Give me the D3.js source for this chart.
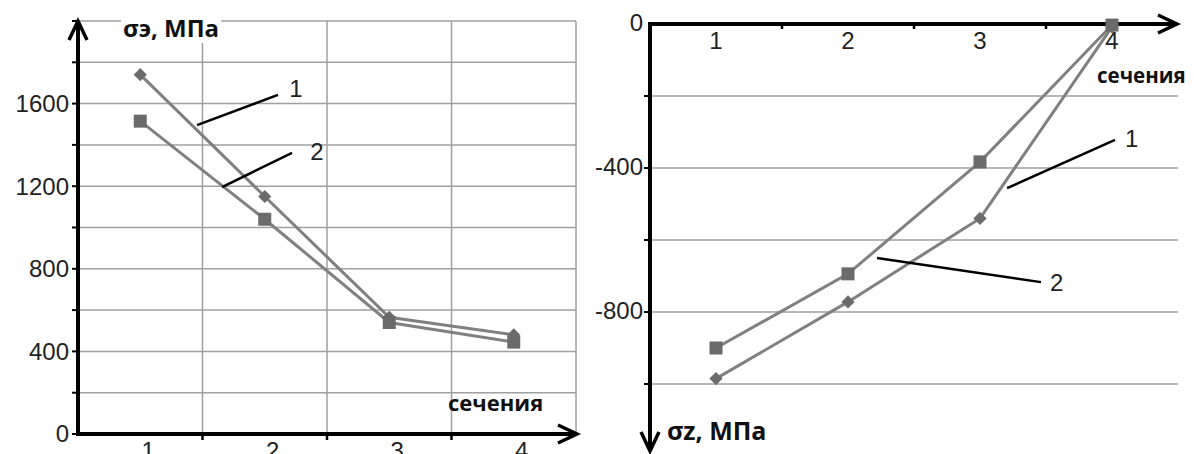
<!DOCTYPE html>
<html>
<head>
<meta charset="utf-8">
<script src="https://cdn.jsdelivr.net/npm/d3@7"></script>
<style>
  body { margin: 0; background: #fff; }
  svg { display: block; }
  .tick-label { font-family: "Liberation Sans", Arial, sans-serif; font-size: 24px; fill: #222; }
  .axis-title { font-family: "Open Sans", sans-serif; font-weight: 700; fill: #111; }
</style>
</head>
<body>
<div id="chart"></div>
<script>
// sections along the shaft
const sections = [1, 2, 3, 4];
// left chart: equivalent stress σэ, MPa
const seCurve1 = [1740, 1150, 565, 480];
const seCurve2 = [1515, 1040, 540, 445];
const seGrid = [200, 400, 600, 800, 1000, 1200, 1400, 1600, 1800, 2000];
const seLabels = [0, 400, 800, 1200, 1600];
// right chart: axial stress σz, MPa
const szCurve1 = [-985, -772, -540, -8];
const szCurve2 = [-900, -694, -383, -3];
const szGrid = [-200, -400, -600, -800, -1000];
const szLabels = [0, -400, -800];

var W = 1194, H = 454;
var svg = d3.select('#chart').append('svg').attr('width', W).attr('height', H);
svg.append('rect').attr('width', W).attr('height', H).attr('fill', '#fff');

var lineCol = '#808080', markCol = '#6b6b6b', gridCol = '#a0a0a0';

function arrowHead(g, x, y, dir){
	// open chevron arrow, dir: 'up' | 'right' | 'down'
	var p;
	if (dir === 'up') p = [[x - 9, y + 19], [x, y], [x + 9, y + 19]];
	if (dir === 'down') p = [[x - 9, y - 19], [x, y], [x + 9, y - 19]];
	if (dir === 'right') p = [[x - 19, y - 9], [x, y], [x - 19, y + 9]];
	g.append('path').attr('d', d3.line()(p)).attr('fill', 'none')
		.attr('stroke', '#000').attr('stroke-width', 3.5).attr('stroke-linejoin', 'miter');
}

function diamond(g, pts, size){
	g.selectAll(null).data(pts).enter().append('path')
		.attr('d', d3.symbol().type(d3.symbolDiamond2).size(size))
		.attr('transform', function(d){ return 'translate(' + d[0] + ',' + d[1] + ')'; })
		.attr('fill', markCol);
}
function square(g, pts, side){
	g.selectAll(null).data(pts).enter().append('rect')
		.attr('x', function(d){ return d[0] - side / 2; })
		.attr('y', function(d){ return d[1] - side / 2; })
		.attr('width', side).attr('height', side)
		.attr('fill', markCol);
}

// ---------------- left chart ----------------
var xL = d3.scaleLinear().domain([0.5, 4.5]).range([78, 576]);
var yL = d3.scaleLinear().domain([0, 2000]).range([434, 21]);
var gL = svg.append('g');

// grid
gL.selectAll(null).data(seGrid).enter().append('line')
	.attr('x1', xL(0.5)).attr('x2', xL(4.5))
	.attr('y1', function(d){ return yL(d); }).attr('y2', function(d){ return yL(d); })
	.attr('stroke', gridCol).attr('stroke-width', 1.5);
gL.selectAll(null).data([1.5, 2.5, 3.5, 4.5]).enter().append('line')
	.attr('x1', function(d){ return xL(d); }).attr('x2', function(d){ return xL(d); })
	.attr('y1', yL(0)).attr('y2', yL(2000))
	.attr('stroke', gridCol).attr('stroke-width', 1.5);

// title with white box over grid
var tL = gL.append('text').attr('class', 'axis-title').attr('x', 123).attr('y', 37)
	.attr('font-size', 24).text('σэ, МПа');
var bb = tL.node().getBBox();
gL.insert('rect', 'text').attr('x', bb.x - 2).attr('y', bb.y + 3).attr('width', bb.width + 4).attr('height', bb.height - 4).attr('fill', '#fff');

// curves
var lineL = d3.line().x(function(d, i){ return xL(sections[i]); }).y(function(d){ return yL(d); });
gL.append('path').attr('d', lineL(seCurve1)).attr('fill', 'none').attr('stroke', lineCol).attr('stroke-width', 3);
gL.append('path').attr('d', lineL(seCurve2)).attr('fill', 'none').attr('stroke', lineCol).attr('stroke-width', 3);
diamond(gL, seCurve1.map(function(d, i){ return [xL(sections[i]), yL(d)]; }), 110);
square(gL, seCurve2.map(function(d, i){ return [xL(sections[i]), yL(d)]; }), 13);

// axes
gL.append('line').attr('x1', xL(0.5)).attr('x2', xL(0.5)).attr('y1', yL(0) + 2).attr('y2', 21)
	.attr('stroke', '#000').attr('stroke-width', 4);
arrowHead(gL, xL(0.5), 21, 'up');
gL.append('line').attr('x1', xL(0.5) - 2).attr('x2', 576).attr('y1', yL(0)).attr('y2', yL(0))
	.attr('stroke', '#000').attr('stroke-width', 4);
arrowHead(gL, 577, yL(0), 'right');
// ticks
gL.selectAll(null).data([0].concat(seGrid)).enter().append('line')
	.attr('x1', xL(0.5) - 6).attr('x2', xL(0.5))
	.attr('y1', function(d){ return yL(d); }).attr('y2', function(d){ return yL(d); })
	.attr('stroke', '#000').attr('stroke-width', 2);
gL.selectAll(null).data([1.5, 2.5, 3.5]).enter().append('line')
	.attr('x1', function(d){ return xL(d); }).attr('x2', function(d){ return xL(d); })
	.attr('y1', yL(0)).attr('y2', yL(0) + 6)
	.attr('stroke', '#000').attr('stroke-width', 2.5);
gL.selectAll(null).data(seLabels).enter().append('text').attr('class', 'tick-label')
	.attr('x', xL(0.5) - 9).attr('y', function(d){ return yL(d); }).attr('dy', '0.35em')
	.attr('text-anchor', 'end').text(function(d){ return d; });
gL.selectAll(null).data(sections).enter().append('text').attr('class', 'tick-label')
	.attr('x', function(d){ return xL(d) + 8; }).attr('y', 459)
	.attr('text-anchor', 'middle').text(function(d){ return d; });
gL.append('text').attr('class', 'axis-title').attr('x', 448).attr('y', 411)
	.attr('font-size', 22).attr('font-weight', 600).text('сечения');

// leader lines
var leadL = [
	{ from: [1.456, 1496], to: [2.106, 1642], at: [2.25, 1672], name: '1' },
	{ from: [1.657, 1196], to: [2.219, 1361], at: [2.42, 1366], name: '2' }
];
leadL.forEach(function(d){
	gL.append('line').attr('x1', xL(d.from[0])).attr('y1', yL(d.from[1]))
		.attr('x2', xL(d.to[0])).attr('y2', yL(d.to[1])).attr('stroke', '#000').attr('stroke-width', 2.5);
	gL.append('text').attr('class', 'tick-label').attr('x', xL(d.at[0])).attr('y', yL(d.at[1]))
		.attr('dy', '0.35em').attr('text-anchor', 'middle').text(d.name);
});

// ---------------- right chart ----------------
var xR = d3.scaleLinear().domain([0.5, 4.5]).range([650, 1178]);
var yR = d3.scaleLinear().domain([0, -1000]).range([24, 384]);
var gR = svg.append('g');

gR.selectAll(null).data(szGrid).enter().append('line')
	.attr('x1', xR(0.5)).attr('x2', xR(4.5))
	.attr('y1', function(d){ return yR(d); }).attr('y2', function(d){ return yR(d); })
	.attr('stroke', gridCol).attr('stroke-width', 1.5);

var lineR = d3.line().x(function(d, i){ return xR(sections[i]); }).y(function(d){ return yR(d); });
gR.append('path').attr('d', lineR(szCurve1)).attr('fill', 'none').attr('stroke', lineCol).attr('stroke-width', 3);
gR.append('path').attr('d', lineR(szCurve2)).attr('fill', 'none').attr('stroke', lineCol).attr('stroke-width', 3);

// axes
gR.append('line').attr('x1', xR(0.5)).attr('x2', 1176).attr('y1', yR(0)).attr('y2', yR(0))
	.attr('stroke', '#000').attr('stroke-width', 4);
arrowHead(gR, 1177, yR(0), 'right');
gR.append('line').attr('x1', xR(0.5)).attr('x2', xR(0.5)).attr('y1', yR(0) - 2).attr('y2', 450)
	.attr('stroke', '#000').attr('stroke-width', 4);
arrowHead(gR, xR(0.5), 451, 'down');

diamond(gR, szCurve1.map(function(d, i){ return [xR(sections[i]), yR(d)]; }), 110);
square(gR, szCurve2.map(function(d, i){ return [xR(sections[i]), yR(d)]; }), 13);

gR.selectAll(null).data(szGrid).enter().append('line')
	.attr('x1', xR(0.5) - 6).attr('x2', xR(0.5))
	.attr('y1', function(d){ return yR(d); }).attr('y2', function(d){ return yR(d); })
	.attr('stroke', '#000').attr('stroke-width', 2);
gR.selectAll(null).data([1.5, 2.5, 3.5]).enter().append('line')
	.attr('x1', function(d){ return xR(d); }).attr('x2', function(d){ return xR(d); })
	.attr('y1', yR(0)).attr('y2', yR(0) + 5)
	.attr('stroke', '#000').attr('stroke-width', 2.5);
gR.selectAll(null).data(szLabels).enter().append('text').attr('class', 'tick-label')
	.attr('x', xR(0.5) - 7).attr('y', function(d){ return yR(d); }).attr('dy', '0.3em')
	.attr('text-anchor', 'end').text(function(d){ return d; });
gR.selectAll(null).data(sections).enter().append('text').attr('class', 'tick-label')
	.attr('x', function(d){ return xR(d); }).attr('y', 49)
	.attr('text-anchor', 'middle').text(function(d){ return d; });
gR.append('text').attr('class', 'axis-title').attr('x', 1097).attr('y', 83)
	.attr('font-size', 20.5).attr('font-weight', 600).text('сечения');
gR.append('text').attr('class', 'axis-title').attr('x', 667).attr('y', 440)
	.attr('font-size', 25).text('σz, МПа');

var leadR = [
	{ from: [3.205, -456], to: [4.023, -322], at: [4.15, -318], name: '1' },
	{ from: [2.22, -650], to: [3.462, -717], at: [3.58, -717], name: '2' }
];
leadR.forEach(function(d){
	gR.append('line').attr('x1', xR(d.from[0])).attr('y1', yR(d.from[1]))
		.attr('x2', xR(d.to[0])).attr('y2', yR(d.to[1])).attr('stroke', '#000').attr('stroke-width', 2.5);
	gR.append('text').attr('class', 'tick-label').attr('x', xR(d.at[0])).attr('y', yR(d.at[1]))
		.attr('dy', '0.35em').attr('text-anchor', 'middle').text(d.name);
});
</script>
</body>
</html>
